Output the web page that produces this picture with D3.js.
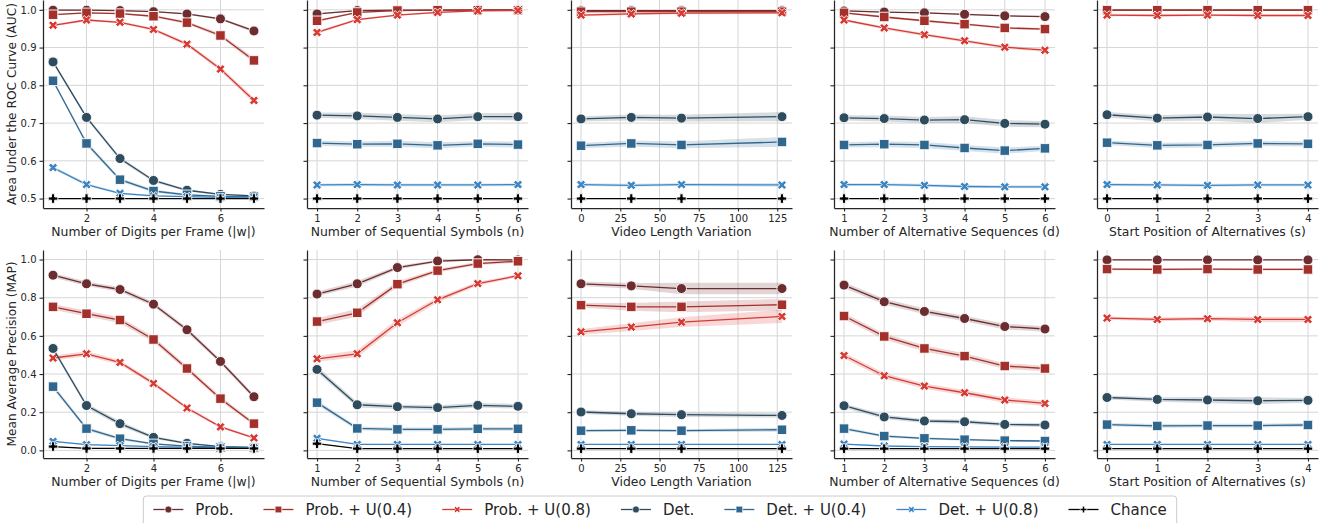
<!DOCTYPE html>
<html><head><meta charset="utf-8">
<script src="https://cdn.jsdelivr.net/npm/d3@7"></script>
<style>
body{margin:0;background:#fff}
text{font-family:"DejaVu Sans",sans-serif;fill:#262626}
</style>
</head><body>
<svg id="chart" width="1325" height="523"></svg>
<script>
// ---------- DATA ----------
const seriesNames = ["Prob.", "Prob. + U(0.4)", "Prob. + U(0.8)", "Det.", "Det. + U(0.4)", "Det. + U(0.8)", "Chance"];
const seriesColors = ["#6b2d2f", "#a3302b", "#d63a33", "#2f4b5e", "#30678f", "#3d85c2", "#000000"];
const seriesMarkers = ["o", "s", "X", "o", "s", "X", "P"];

const xDigits = [1, 2, 3, 4, 5, 6, 7];
const xSymbols = [1, 2, 3, 4, 5, 6];
const xVideo = [0, 32, 64, 128];
const xAlt = [1, 2, 3, 4, 5, 6];
const xStart = [0, 1, 2, 3, 4];

const xTicksDigits = [2, 4, 6];
const xTicksSymbols = [1, 2, 3, 4, 5, 6];
const xTicksVideo = [0, 25, 50, 75, 100, 125];
const xTicksAlt = [1, 2, 3, 4, 5, 6];
const xTicksStart = [0, 1, 2, 3, 4];
const yTicksAUC = [0.5, 0.6, 0.7, 0.8, 0.9, 1.0];
const yTicksMAP = [0.0, 0.2, 0.4, 0.6, 0.8, 1.0];

const xLabels = ["Number of Digits per Frame (|w|)", "Number of Sequential Symbols (n)", "Video Length Variation", "Number of Alternative Sequences (d)", "Start Position of Alternatives (s)"];
const yLabels = ["Area Under the ROC Curve (AUC)", "Mean Average Precision (MAP)"];

// AUC (rows follow seriesNames)
const aucDigits = [
  [0.999, 0.999, 0.998, 0.995, 0.989, 0.976, 0.944],
  [0.987, 0.992, 0.990, 0.983, 0.966, 0.932, 0.866],
  [0.959, 0.973, 0.967, 0.948, 0.909, 0.843, 0.760],
  [0.862, 0.715, 0.606, 0.548, 0.522, 0.511, 0.507],
  [0.812, 0.646, 0.550, 0.520, 0.510, 0.506, 0.505],
  [0.582, 0.537, 0.514, 0.507, 0.505, 0.503, 0.504],
  [0.500, 0.500, 0.500, 0.500, 0.500, 0.500, 0.500]];
const aucDigitsCI = [
  [0.001, 0.001, 0.001, 0.001, 0.002, 0.003, 0.004],
  [0.002, 0.002, 0.002, 0.003, 0.004, 0.005, 0.007],
  [0.003, 0.003, 0.003, 0.004, 0.005, 0.006, 0.007],
  [0.004, 0.005, 0.005, 0.004, 0.003, 0.002, 0.002],
  [0.004, 0.006, 0.005, 0.004, 0.003, 0.002, 0.002],
  [0.004, 0.004, 0.003, 0.002, 0.002, 0.002, 0.002],
  [0, 0, 0, 0, 0, 0, 0]];
const aucSymbols = [
  [0.989, 0.998, 0.999, 0.999, 1.000, 1.000],
  [0.971, 0.993, 0.998, 0.999, 0.999, 0.999],
  [0.940, 0.974, 0.986, 0.993, 0.997, 0.998],
  [0.721, 0.719, 0.715, 0.711, 0.717, 0.717],
  [0.647, 0.644, 0.645, 0.641, 0.645, 0.643],
  [0.536, 0.537, 0.536, 0.536, 0.536, 0.537],
  [0.500, 0.500, 0.500, 0.500, 0.500, 0.500]];
const aucSymbolsCI = [
  [0.002, 0.001, 0.001, 0.000, 0.000, 0.000],
  [0.003, 0.002, 0.001, 0.001, 0.001, 0.001],
  [0.004, 0.003, 0.002, 0.002, 0.001, 0.001],
  [0.007, 0.008, 0.009, 0.009, 0.009, 0.010],
  [0.007, 0.007, 0.008, 0.008, 0.007, 0.008],
  [0.004, 0.004, 0.004, 0.004, 0.004, 0.004],
  [0, 0, 0, 0, 0, 0]];
const aucVideo = [
  [0.998, 0.998, 0.998, 0.998],
  [0.995, 0.995, 0.995, 0.995],
  [0.986, 0.989, 0.991, 0.992],
  [0.711, 0.715, 0.713, 0.717],
  [0.640, 0.646, 0.642, 0.650],
  [0.537, 0.535, 0.537, 0.536],
  [0.500, 0.500, 0.500, 0.500]];
const aucVideoCI = [
  [0.001, 0.001, 0.001, 0.001],
  [0.002, 0.002, 0.002, 0.002],
  [0.003, 0.003, 0.003, 0.003],
  [0.007, 0.008, 0.009, 0.012],
  [0.007, 0.008, 0.009, 0.013],
  [0.004, 0.004, 0.004, 0.005],
  [0, 0, 0, 0]];
const aucAlt = [
  [0.997, 0.994, 0.992, 0.988, 0.984, 0.982],
  [0.992, 0.981, 0.971, 0.962, 0.952, 0.949],
  [0.973, 0.952, 0.934, 0.918, 0.901, 0.893],
  [0.714, 0.712, 0.708, 0.709, 0.699, 0.697],
  [0.642, 0.644, 0.642, 0.634, 0.627, 0.633],
  [0.537, 0.537, 0.535, 0.532, 0.531, 0.531],
  [0.500, 0.500, 0.500, 0.500, 0.500, 0.500]];
const aucAltCI = [
  [0.001, 0.001, 0.002, 0.002, 0.002, 0.002],
  [0.002, 0.003, 0.003, 0.003, 0.003, 0.003],
  [0.003, 0.004, 0.004, 0.004, 0.004, 0.004],
  [0.007, 0.008, 0.008, 0.009, 0.009, 0.008],
  [0.007, 0.008, 0.008, 0.008, 0.008, 0.007],
  [0.004, 0.004, 0.004, 0.004, 0.004, 0.004],
  [0, 0, 0, 0, 0, 0]];
const aucStart = [
  [0.999, 0.999, 0.999, 0.999, 0.999],
  [0.999, 0.999, 0.999, 0.999, 0.999],
  [0.986, 0.985, 0.986, 0.985, 0.985],
  [0.722, 0.713, 0.716, 0.712, 0.717],
  [0.648, 0.641, 0.642, 0.646, 0.645],
  [0.537, 0.536, 0.535, 0.536, 0.536],
  [0.500, 0.500, 0.500, 0.500, 0.500]];
const aucStartCI = [
  [0.001, 0.001, 0.001, 0.001, 0.001],
  [0.001, 0.001, 0.001, 0.001, 0.001],
  [0.003, 0.003, 0.003, 0.003, 0.003],
  [0.007, 0.008, 0.009, 0.012, 0.008],
  [0.006, 0.007, 0.007, 0.007, 0.007],
  [0.004, 0.004, 0.004, 0.004, 0.004],
  [0, 0, 0, 0, 0]];

// MAP
const mapDigits = [
  [0.918, 0.873, 0.843, 0.766, 0.632, 0.466, 0.281],
  [0.752, 0.716, 0.683, 0.581, 0.429, 0.271, 0.140],
  [0.484, 0.506, 0.461, 0.351, 0.222, 0.123, 0.065],
  [0.534, 0.235, 0.140, 0.068, 0.037, 0.020, 0.016],
  [0.334, 0.114, 0.061, 0.034, 0.022, 0.015, 0.013],
  [0.047, 0.030, 0.025, 0.020, 0.017, 0.015, 0.014],
  [0.020, 0.010, 0.010, 0.010, 0.010, 0.010, 0.010]];
const mapDigitsCI = [
  [0.012, 0.012, 0.012, 0.012, 0.012, 0.012, 0.012],
  [0.015, 0.015, 0.015, 0.014, 0.013, 0.012, 0.010],
  [0.013, 0.013, 0.012, 0.011, 0.009, 0.007, 0.006],
  [0.012, 0.012, 0.012, 0.008, 0.005, 0.003, 0.003],
  [0.012, 0.010, 0.008, 0.005, 0.003, 0.002, 0.002],
  [0.004, 0.003, 0.003, 0.002, 0.002, 0.002, 0.002],
  [0.003, 0.001, 0.001, 0.001, 0.001, 0.001, 0.001]];
const mapSymbols = [
  [0.819, 0.873, 0.958, 0.992, 0.999, 0.998],
  [0.675, 0.721, 0.871, 0.942, 0.979, 0.991],
  [0.480, 0.506, 0.669, 0.789, 0.874, 0.915],
  [0.424, 0.239, 0.229, 0.224, 0.236, 0.231],
  [0.250, 0.115, 0.110, 0.110, 0.113, 0.113],
  [0.063, 0.031, 0.031, 0.031, 0.031, 0.031],
  [0.035, 0.009, 0.009, 0.009, 0.009, 0.009]];
const mapSymbolsCI = [
  [0.012, 0.014, 0.010, 0.006, 0.003, 0.003],
  [0.018, 0.020, 0.014, 0.010, 0.008, 0.008],
  [0.016, 0.018, 0.018, 0.014, 0.010, 0.008],
  [0.015, 0.014, 0.012, 0.012, 0.012, 0.012],
  [0.012, 0.010, 0.010, 0.010, 0.010, 0.010],
  [0.004, 0.002, 0.002, 0.002, 0.002, 0.002],
  [0.002, 0.001, 0.001, 0.001, 0.001, 0.001]];
const mapVideo = [
  [0.873, 0.862, 0.848, 0.848],
  [0.761, 0.752, 0.752, 0.763],
  [0.621, 0.646, 0.672, 0.702],
  [0.201, 0.192, 0.187, 0.183],
  [0.103, 0.105, 0.103, 0.108],
  [0.031, 0.031, 0.031, 0.031],
  [0.009, 0.009, 0.009, 0.009]];
const mapVideoCI = [
  [0.012, 0.015, 0.030, 0.030],
  [0.012, 0.020, 0.028, 0.030],
  [0.015, 0.020, 0.025, 0.035],
  [0.010, 0.010, 0.012, 0.012],
  [0.008, 0.008, 0.008, 0.010],
  [0.003, 0.003, 0.003, 0.003],
  [0.001, 0.001, 0.001, 0.001]];
const mapAlt = [
  [0.866, 0.779, 0.728, 0.691, 0.649, 0.636],
  [0.704, 0.597, 0.534, 0.494, 0.442, 0.429],
  [0.497, 0.391, 0.337, 0.302, 0.264, 0.246],
  [0.234, 0.175, 0.154, 0.150, 0.136, 0.133],
  [0.114, 0.075, 0.063, 0.056, 0.051, 0.049],
  [0.033, 0.023, 0.020, 0.018, 0.017, 0.017],
  [0.009, 0.009, 0.009, 0.009, 0.009, 0.009]];
const mapAltCI = [
  [0.015, 0.015, 0.015, 0.015, 0.015, 0.015],
  [0.016, 0.016, 0.016, 0.015, 0.015, 0.015],
  [0.015, 0.015, 0.014, 0.014, 0.014, 0.014],
  [0.012, 0.011, 0.010, 0.010, 0.010, 0.010],
  [0.009, 0.007, 0.006, 0.006, 0.005, 0.005],
  [0.003, 0.002, 0.002, 0.002, 0.002, 0.002],
  [0.001, 0.001, 0.001, 0.001, 0.001, 0.001]];
const mapStart = [
  [0.998, 0.998, 0.998, 0.998, 0.998],
  [0.950, 0.948, 0.950, 0.948, 0.948],
  [0.693, 0.686, 0.690, 0.686, 0.686],
  [0.277, 0.267, 0.264, 0.260, 0.262],
  [0.135, 0.128, 0.130, 0.130, 0.133],
  [0.031, 0.031, 0.031, 0.031, 0.031],
  [0.009, 0.009, 0.009, 0.009, 0.009]];
const mapStartCI = [
  [0.002, 0.002, 0.002, 0.002, 0.002],
  [0.006, 0.006, 0.006, 0.006, 0.006],
  [0.008, 0.010, 0.010, 0.014, 0.014],
  [0.010, 0.012, 0.016, 0.018, 0.012],
  [0.008, 0.010, 0.010, 0.010, 0.010],
  [0.003, 0.003, 0.003, 0.003, 0.003],
  [0.001, 0.001, 0.001, 0.001, 0.001]];

// ---------- LAYOUT ----------
const svg = d3.select("#chart");
const panelLeft = [43, 307, 571, 834, 1097];
const panelW = 221;
const rowsCfg = [
  {top: 0, bottom: 208, domain: [0.475, 1.026], ticks: yTicksAUC, label: yLabels[0],
   data: [aucDigits, aucSymbols, aucVideo, aucAlt, aucStart], ci: [aucDigitsCI, aucSymbolsCI, aucVideoCI, aucAltCI, aucStartCI]},
  {top: 250, bottom: 458, domain: [-0.04, 1.05], ticks: yTicksMAP, label: yLabels[1],
   data: [mapDigits, mapSymbols, mapVideo, mapAlt, mapStart], ci: [mapDigitsCI, mapSymbolsCI, mapVideoCI, mapAltCI, mapStartCI]}
];
const colX = [xDigits, xSymbols, xVideo, xAlt, xStart];
const colTicks = [xTicksDigits, xTicksSymbols, xTicksVideo, xTicksAlt, xTicksStart];

const tickFS = 10, labelFS = 12.4, yLabelFS = 12.2, legendFS = 15;
const gridColor = "#d6d6d6", spineColor = "#262626";

function markerPath(type, s) {
  const h = s / 2;
  if (type === "o") return `M${h},0A${h},${h} 0 1 1 ${-h},0A${h},${h} 0 1 1 ${h},0Z`;
  if (type === "s") return `M${-h},${-h}H${h}V${h}H${-h}Z`;
  let pts;
  if (type === "X") pts = [[0.25,0],[0.5,0.25],[0.75,0],[1,0.25],[0.75,0.5],[1,0.75],[0.75,1],[0.5,0.75],[0.25,1],[0,0.75],[0.25,0.5],[0,0.25]];
  else pts = [[1,0],[2,0],[2,1],[3,1],[3,2],[2,2],[2,3],[1,3],[1,2],[0,2],[0,1],[1,1]].map(p => [p[0]/3, p[1]/3]);
  return "M" + pts.map(p => `${(p[0]-0.5)*s},${(p[1]-0.5)*s}`).join("L") + "Z";
}
const markerSize = {o: 10, s: 9.5, X: 9, P: 9.5};

rowsCfg.forEach((row, ri) => {
  const h = row.bottom - row.top;
  const y = d3.scaleLinear().domain(row.domain).range([h, 0]);
  colX.forEach((xs, ci) => {
    const [mn, mx] = d3.extent(xs);
    const pad = (mx - mn) * 0.05;
    const x = d3.scaleLinear().domain([mn - pad, mx + pad]).range([0, panelW]);
    const g = svg.append("g").attr("transform", `translate(${panelLeft[ci]},${row.top})`);
    // grid
    g.append("g").selectAll("line").data(colTicks[ci]).join("line")
      .attr("x1", d => x(d)).attr("x2", d => x(d)).attr("y1", 0).attr("y2", h)
      .attr("stroke", gridColor).attr("stroke-width", 1);
    g.append("g").selectAll("line").data(row.ticks).join("line")
      .attr("x1", 0).attr("x2", panelW).attr("y1", d => y(d)).attr("y2", d => y(d))
      .attr("stroke", gridColor).attr("stroke-width", 1);
    // axes
    const ax = g.append("g").attr("transform", `translate(0,${h})`)
      .call(d3.axisBottom(x).tickValues(colTicks[ci]).tickFormat(d3.format("d")).tickSize(3.5).tickSizeOuter(0).tickPadding(3));
    const ay = g.append("g")
      .call(d3.axisLeft(y).tickValues(row.ticks).tickFormat(ci === 0 ? d3.format(".1f") : () => "").tickSize(3.5).tickSizeOuter(0).tickPadding(3));
    [ax, ay].forEach(a => {
      a.select(".domain").attr("stroke", spineColor).attr("stroke-width", 1.25);
      a.selectAll(".tick line").attr("stroke", spineColor).attr("stroke-width", 1.1);
      a.selectAll(".tick text").attr("font-size", tickFS).attr("fill", "#262626").attr("font-family", "DejaVu Sans");
    });
    // x label
    g.append("text").attr("x", panelW / 2).attr("y", h + 28).attr("text-anchor", "middle")
      .attr("font-size", labelFS).text(xLabels[ci]);
    if (ci === 0) {
      g.append("text").attr("transform", `translate(${16 - panelLeft[0]},${h / 2}) rotate(-90)`)
        .attr("text-anchor", "middle").attr("font-size", yLabelFS).text(row.label);
    }
    const vals = row.data[ci], cis = row.ci[ci];
    const pts = vals.map((arr, si) => arr.map((v, i) => ({x: xs[i], v, c: cis[si][i]})));
    // bands
    const area = d3.area().x(d => x(d.x)).y0(d => y(d.v - d.c)).y1(d => y(d.v + d.c));
    pts.forEach((p, si) => {
      g.append("path").attr("d", area(p)).attr("fill", seriesColors[si]).attr("fill-opacity", 0.2).attr("stroke", "none");
    });
    const line = d3.line().x(d => x(d.x)).y(d => y(d.v));
    pts.forEach((p, si) => {
      g.append("path").attr("d", line(p)).attr("fill", "none").attr("stroke", seriesColors[si]).attr("stroke-width", 1.3);
      const m = seriesMarkers[si];
      g.append("g").selectAll("path").data(p).join("path")
        .attr("transform", d => `translate(${x(d.x)},${y(d.v)})`)
        .attr("d", markerPath(m, markerSize[m]))
        .attr("fill", seriesColors[si]).attr("stroke", "#fff").attr("stroke-width", 0.9);
    });
  });
});

// ---------- LEGEND ----------
const leg = svg.append("g");
const box = leg.append("rect");
const items = leg.append("g");
let cx = 0;
const handleLen = 2 * legendFS, textPad = 0.8 * legendFS, colSp = 2 * legendFS, bpad = 0.4 * legendFS;
const legendY = 509.5;
seriesNames.forEach((name, si) => {
  const gi = items.append("g").attr("transform", `translate(${cx},0)`);
  gi.append("line").attr("x1", 0).attr("x2", handleLen).attr("y1", legendY).attr("y2", legendY)
    .attr("stroke", seriesColors[si]).attr("stroke-width", 1.3);
  const m = seriesMarkers[si];
  gi.append("path").attr("transform", `translate(${handleLen / 2},${legendY})`)
    .attr("d", markerPath(m, markerSize[m] * 0.7)).attr("fill", seriesColors[si]).attr("stroke", "#fff").attr("stroke-width", 0.7);
  const t = gi.append("text").attr("x", handleLen + textPad).attr("y", legendY + legendFS * 0.36)
    .attr("font-size", legendFS).text(name);
  cx += handleLen + textPad + t.node().getComputedTextLength() + colSp;
});
const totalW = cx - colSp;
const boxW = totalW + 2 * bpad + 8;
const centerX = 660;
items.attr("transform", `translate(${centerX - totalW / 2},0)`);
box.attr("x", centerX - boxW / 2).attr("y", 496).attr("width", boxW).attr("height", 32)
  .attr("rx", 3).attr("fill", "#fff").attr("fill-opacity", 0.8).attr("stroke", "#cccccc").attr("stroke-width", 1);
</script>
</body></html>
